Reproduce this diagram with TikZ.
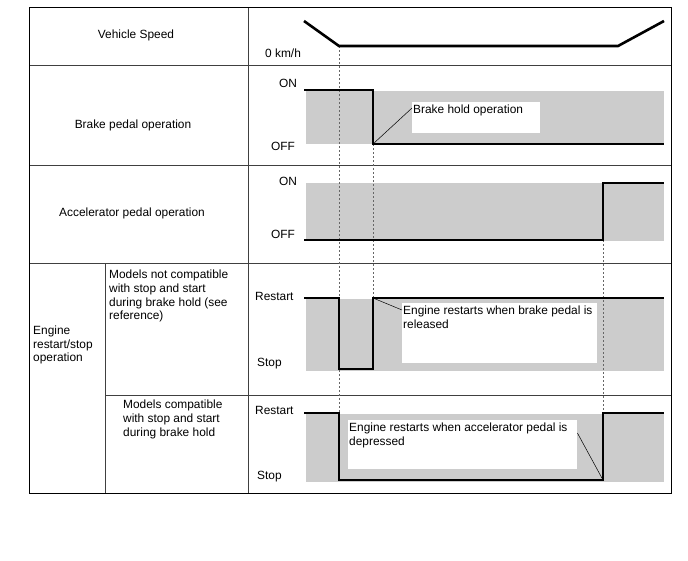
\documentclass[tikz,border=0pt]{standalone}
\usepackage{fontspec}
\setmainfont{Liberation Sans}
\begin{document}
\begin{tikzpicture}[x=1pt,y=-1pt,font=\fontsize{11.9}{13.6}\selectfont]
    \tikzset{
        grid/.style={draw=black!75,line width=0.8pt},
        trace/.style={line width=2.6pt,line join=miter},
        band/.style={fill=black!20},
        guide/.style={dashed,dash pattern=on 2pt off 2pt,draw=black!60,line width=0.7pt},
        notebox/.style={fill=white,inner sep=0pt,anchor=north west},
        notetext/.style={anchor=north west,inner sep=1pt,yshift=-2pt,align=left},
        leader/.style={line width=0.5pt},
        level/.style={anchor=west,inner sep=0pt},
        rowhead/.style={align=center},
        subhead/.style={anchor=north west,align=left,inner sep=0pt}
    }
    \useasboundingbox[fill=white] (0,0) rectangle (688,560);

    % table
    \draw[grid] (248,7) -- (248,493);
    \draw[grid] (105,263) -- (105,493);
    \draw[grid] (29,65) -- (671,65);
    \draw[grid] (29,165) -- (671,165);
    \draw[grid] (29,263) -- (671,263);
    \draw[grid] (105,395) -- (671,395);
    \draw[line width=1pt] (29,7) rectangle (671,493);

    \node[rowhead] (speed) at (136,35) {Vehicle Speed};
    \node[rowhead] (brake) at (133,125) {Brake pedal operation};
    \node[rowhead] (accel) at (132,213) {Accelerator pedal operation};
    \node[anchor=west,align=left,inner sep=0pt] (engine) at (33,345)
        {Engine\\restart/stop\\operation};
    \node[subhead] (notcomp) at (109,270)
        {Models not compatible\\with stop and start\\during brake hold (see\\reference)};
    \node[subhead] (comp) at (123,400)
        {Models compatible\\with stop and start\\during brake hold};

    % level labels
    \node[level] (kmh) at (265,53) {0 km/h};
    \node[level] (bon) at (279,83) {ON};
    \node[level] (boff) at (271,146) {OFF};
    \node[level] (aon) at (279,181) {ON};
    \node[level] (aoff) at (271,234) {OFF};
    \node[level] (rs1) at (255,296) {Restart};
    \node[level] (st1) at (257,364) {Stop};
    \node[level] (rs2) at (255,410) {Restart};
    \node[level] (st2) at (257,477) {Stop};

    % shaded bands
    \fill[band] (306,91) rectangle (664,144);
    \fill[band] (306,183) rectangle (664,241);
    \fill[band] (306,299) rectangle (664,371);
    \fill[band] (306,414) rectangle (664,482);

    % timing points
    \coordinate (stopped) at (339,46);
    \coordinate (brake off) at (373,144);
    \coordinate (brake rel) at (373,298);
    \coordinate (accel on) at (603,240);
    \coordinate (accel rs) at (603,480);

    % guides
    \draw[guide] (stopped) -- (339,413);
    \draw[guide] (brake off) -- (brake rel);
    \draw[guide] (accel on) -- (603,413);

    % traces
    \draw[trace] (304,21) -- (stopped) -- (618,46) -- (664,21);
    \draw[trace] (304,90) -- (373,90) -- (brake off) -- (664,144);
    \draw[trace] (304,240) -- (accel on) -- (603,183) -- (664,183);
    \draw[trace] (304,298) -- (339,298) -- (339,369) -- (373,369)
        -- (brake rel) -- (664,298);
    \draw[trace] (304,413) -- (339,413) -- (339,480) -- (accel rs)
        -- (603,413) -- (664,413);

    % notes
    \node[notebox,minimum width=128pt,minimum height=31pt] (hold box) at (412,102) {};
    \node[notetext] (hold) at (hold box.north west) {Brake hold operation};
    \draw[leader] (brake off) -- ([yshift=-6pt]hold box.north west);

    \node[notebox,minimum width=195pt,minimum height=60pt] (rel box) at (402,303) {};
    \node[notetext] (rel) at (rel box.north west)
        {Engine restarts when brake pedal is\\released};
    \draw[leader] (brake rel) -- ([yshift=-7pt]rel box.north west);

    \node[notebox,minimum width=229pt,minimum height=49pt] (dep box) at (348,420) {};
    \node[notetext] (dep) at (dep box.north west)
        {Engine restarts when accelerator pedal is\\depressed};
    \draw[leader] (accel rs) -- ([yshift=-13pt]dep box.north east);
\end{tikzpicture}
\end{document}
